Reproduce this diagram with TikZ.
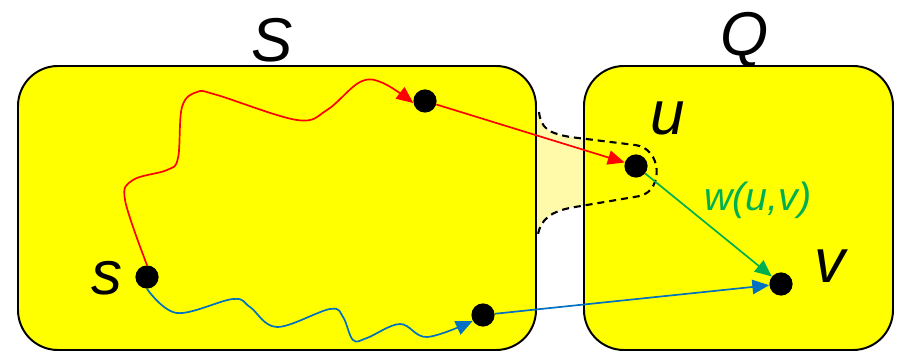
\documentclass[tikz,border=0pt]{standalone}
\usepackage{fontspec}
\setmainfont{Liberation Sans}
\usetikzlibrary{arrows.meta}
\definecolor{boxyellow}{RGB}{255,255,0}
\definecolor{lightyellow}{RGB}{255,250,170}
\definecolor{pathred}{RGB}{255,0,0}
\definecolor{pathblue}{RGB}{0,112,192}
\definecolor{edgegreen}{RGB}{0,176,80}

\begin{document}
\begin{tikzpicture}[x=0.025cm,y=-0.025cm,
    dot/.style={circle,fill=black,inner sep=0pt,minimum size=0.58cm},
    setbox/.style={draw=black,line width=1.4pt,fill=boxyellow,rounded corners=1cm},
    biglabel/.style={font=\fontsize{44}{50}\selectfont\itshape},
    tip/.style={line width=1.2pt,-{Triangle[length=0.42cm,width=0.36cm]}}]
    \useasboundingbox (0,0) rectangle (908,354);
    % light area between the two sets
    \fill[lightyellow] (520,112) -- (539,112) .. controls (541,128) and (548,133) .. (570,137)
        -- (635,145) .. controls (662,148) and (664,190) .. (640,196)
        -- (575,207) .. controls (550,211) and (541,220) .. (538,234) -- (520,234) -- cycle;
    \draw[setbox] (18,66) rectangle (536,350);
    \draw[setbox] (584,66) rectangle (893,350);
    \draw[line width=1.5pt,dash pattern=on 5pt off 3.5pt] (539,112) .. controls (541,128) and (548,133) .. (570,137)
        -- (635,145) .. controls (662,148) and (664,190) .. (640,196)
        -- (575,207) .. controls (550,211) and (541,220) .. (538,234);
    % vertices
    \node[dot] (s) at (147,277) {};
    \node[dot] (a) at (425,101) {};
    \node[dot] (u) at (636,166) {};
    \node[dot] (v) at (781,284) {};
    \node[dot] (b) at (483,315) {};
    % labels
    \node[biglabel] (lS) at (272,40) {S};
    \node[biglabel] (lQ) at (745,40) {Q};
    \node[biglabel] (ls) at (107,278) {s};
    \node[biglabel] (lu) at (668,118) {u};
    \node[biglabel] (lv) at (830,266) {v};
    \node[font=\fontsize{28}{30}\selectfont\itshape,text=edgegreen] (lw) at (758,200) {w(u,v)};
    % paths
    \draw[pathred,tip] plot[smooth,tension=0.6] coordinates {(s.north) (125,200) (133,180) (167,170)
        (178,158) (182,107) (197,92) (217,95) (297,120) (327,110) (360,82) (383,83) (a.190)};
    \draw[pathblue,tip] plot[smooth,tension=0.6] coordinates {(s.south) (177,313) (233,299) (250,307)
        (277,327) (330,309) (343,317) (353,340) (367,338) (400,324) (427,337) (b.210)};
    \draw[pathred,tip] (a) -- (u);
    \draw[edgegreen,tip] (u) -- (v);
    \draw[pathblue,tip] (b) -- (v);
\end{tikzpicture}
\end{document}
